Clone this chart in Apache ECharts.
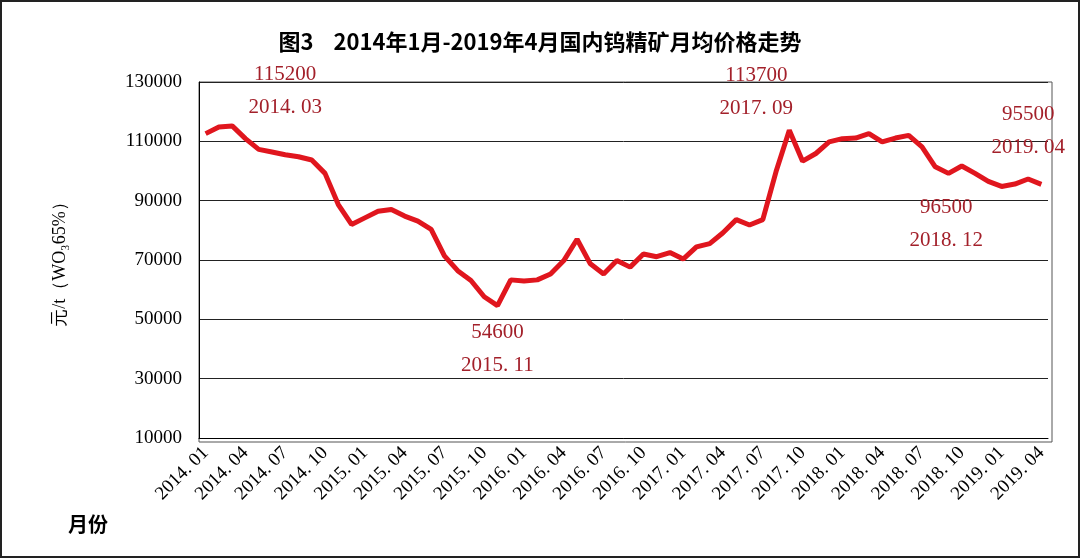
<!DOCTYPE html>
<html><head><meta charset="utf-8">
<script src="https://cdn.jsdelivr.net/npm/echarts@6/dist/echarts.min.js"></script>
<style>html,body{margin:0;padding:0;background:#fff}#c{width:1080px;height:558px;box-sizing:border-box;border:2px solid #222}</style>
</head><body><div id="c"></div>
<script>
const months = [];
for (let y = 2014; y <= 2019; y++) for (let m = 1; m <= 12; m++) { if (y === 2019 && m > 4) break; months.push(y + '. ' + String(m).padStart(2, '0')); }
const prices = [112600,114800,115200,110900,107300,106400,105500,104800,103700,99200,88700,82000,
84200,86400,87000,84800,83100,80300,71400,66400,63100,57600,54600,63300,
62900,63300,65300,69800,77000,68700,65300,69800,67600,72000,71100,72500,
70300,74400,75500,79200,83600,81800,83600,99800,113700,103300,105900,109800,
110900,111100,112600,109800,111100,112000,108100,101400,99200,101700,99200,96500,
94800,95600,97300,95500];
const yTicks = [10000,30000,50000,70000,90000,110000,130000];
const notes = [
  {i:2, pos:'top', off:[53,3]},
  {i:22, pos:'bottom', off:[0,5]},
  {i:44, pos:'top', off:[-33,0]},
  {i:59, pos:'bottom', off:[-42,5]},
  {i:63, pos:'top', off:[-13,-15]}
];
const data = prices.map((v, i) => {
  const n = notes.find(o => o.i === i);
  if (!n) return v;
  return {value: v, label: {show: true, position: n.pos, offset: n.off,
    formatter: v + '\n' + months[i], color: '#a3202a', fontSize: 21,
    fontFamily: 'Liberation Serif', lineHeight: 33}};
});
const chart = echarts.init(document.getElementById('c'));
chart.setOption({
  animation: false,
  title: {text: '图3    2014年1月-2019年4月国内钨精矿月均价格走势', left: 'center', top: 24,
    textStyle: {fontSize: 22, fontWeight: 'bold', color: '#000', fontFamily: 'Noto Sans CJK SC'}},
  grid: {left: 197, right: 30, top: 80, bottom: 118},
  xAxis: {type: 'category', data: months, boundaryGap: true,
    axisLine: {lineStyle: {color: '#000'}},
    axisTick: {inside: true, length: 5, interval: 0, lineStyle: {color: '#000'}},
    axisLabel: {interval: 2, rotate: 45, fontSize: 19, color: '#000', fontFamily: 'Liberation Serif', margin: 12}},
  yAxis: {type: 'value', min: 10000, max: 130000, interval: 20000,
    name: '元/t（WO₃65%）', nameLocation: 'middle', nameGap: 130, nameRotate: 90,
    nameTextStyle: {fontSize: 18, color: '#000', fontFamily: 'Liberation Serif'},
    axisLine: {show: true, lineStyle: {color: '#000'}}, axisTick: {show: false},
    axisLabel: {fontSize: 19, color: '#000', fontFamily: 'Liberation Serif', margin: 17, formatter: v => String(v)},
    splitLine: {lineStyle: {color: '#222', width: 1}}},
  graphic: [
    {type: 'rect', shape: {x: 197, y: 80, width: 853, height: 360}, style: {fill: 'none', stroke: '#555', lineWidth: 1}, silent: true},
    {type: 'text', left: 66, top: 512, style: {text: '月份', fontSize: 20, fontWeight: 'bold', fill: '#000', fontFamily: 'Noto Sans CJK SC'}}
  ],
  series: [{type: 'line', data: data, symbol: 'circle', symbolSize: 0.1, showSymbol: true,
    itemStyle: {color: '#e0161e'}, lineStyle: {color: '#e0161e', width: 5}}]
});
</script></body></html>
